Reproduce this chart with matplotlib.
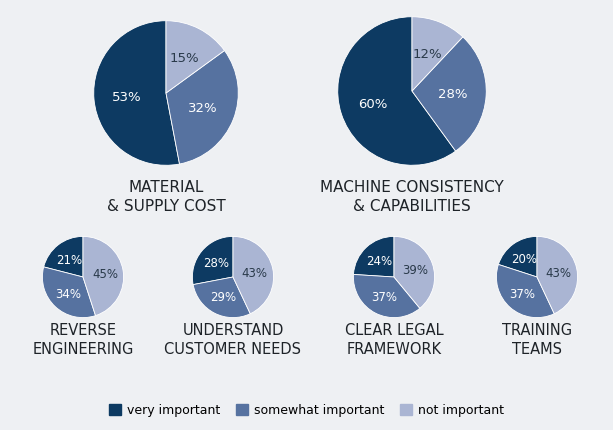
import matplotlib.pyplot as plt
from matplotlib.patches import Patch

W, H = 613, 431
categories = ["very important", "somewhat important", "not important"]
colors = ["#0d3a62", "#5672a0", "#aab5d3"]

titles = ["MATERIAL\n& SUPPLY COST", "MACHINE CONSISTENCY\n& CAPABILITIES",
          "REVERSE\nENGINEERING", "UNDERSTAND\nCUSTOMER NEEDS",
          "CLEAR LEGAL\nFRAMEWORK", "TRAINING\nTEAMS"]
values = [[53, 32, 15], [60, 28, 12],
          [21, 34, 45], [28, 29, 43], [24, 37, 39], [20, 37, 43]]
# center x, center y, radius (pixels)
layout = [(166, 94, 73), (412, 92, 75),
          (83, 278, 41), (233, 278, 41), (394, 278, 41), (537, 278, 41)]
title_y = [197, 197, 340, 340, 340, 340]

fig = plt.figure(figsize=(W / 100, H / 100), dpi=100)
fig.patch.set_facecolor("#eef0f3")

for vals, (cx, cy, r), t, ty in zip(values, layout, titles, title_y):
    ax = fig.add_axes([(cx - r) / W, 1 - (cy + r) / H, 2 * r / W, 2 * r / H])
    big = r > 60
    wedges, texts = ax.pie(vals, colors=colors, startangle=90, counterclock=True,
                           labels=[f"{v}%" for v in vals], labeldistance=0.55,
                           wedgeprops=dict(edgecolor="white", linewidth=0.6))
    for i, tx in enumerate(texts):
        tx.set_color("white" if i < 2 else "#2a3a4a")
        tx.set_fontsize(9.5 if big else 8.5)
        tx.set_ha("center")
        tx.set_va("center")
    ax.set_xlim(-1.01, 1.01)
    ax.set_ylim(-1.01, 1.01)
    ax.set_aspect("equal")
    ax.axis("off")
    fig.text(cx / W, 1 - ty / H, t, ha="center", va="center", fontsize=11 if big else 10.5,
             color="#1e2328", linespacing=1.3)

handles = [Patch(color=c) for c in colors]
fig.legend(handles, categories, loc="center", bbox_to_anchor=(0.5, 1 - 411 / H), ncol=3,
           frameon=False, fontsize=9, handlelength=1.0, handleheight=1.0, columnspacing=1.2,
           handletextpad=0.5)

fig.savefig("out.png", dpi=100, facecolor=fig.get_facecolor())
